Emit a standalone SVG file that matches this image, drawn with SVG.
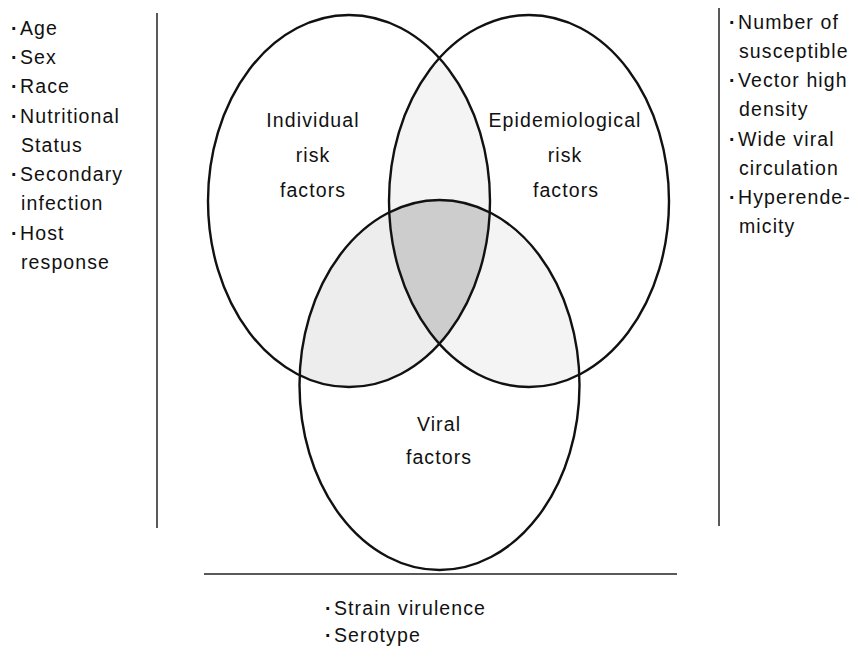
<svg xmlns="http://www.w3.org/2000/svg" width="856" height="651" viewBox="0 0 856 651">
  <style>
    .ring { fill: none; stroke: #111; stroke-width: 2.4; }
    .rule { stroke: #222; stroke-width: 1.5; fill: none; }
    .t { font-family: "Liberation Sans", Arial, sans-serif; font-size: 19.5px; letter-spacing: 1.1px; fill: #111; }
    .b { font-weight: bold; }
    .c { text-anchor: middle; }
    .light { fill: #ededed; }
    .lighter { fill: #f4f4f4; }
    .dark { fill: #cdcdcd; }
  </style>
  <defs>
    <clipPath id="clipL"><ellipse cx="349" cy="201" rx="141" ry="186"/></clipPath>
    <clipPath id="clipR"><ellipse cx="529" cy="201" rx="140" ry="186"/></clipPath>
    <clipPath id="clipB"><ellipse cx="439.5" cy="385" rx="140" ry="185"/></clipPath>
  </defs>
  <rect width="856" height="651" fill="#ffffff"/>

  <!-- shaded overlaps -->
  <g id="overlaps">
    <g clip-path="url(#clipL)"><ellipse class="lighter" cx="529" cy="201" rx="140" ry="186"/></g>
    <g clip-path="url(#clipR)"><ellipse class="lighter" cx="439.5" cy="385" rx="140" ry="185"/></g>
    <g clip-path="url(#clipL)"><ellipse class="light" cx="439.5" cy="385" rx="140" ry="185"/></g>
    <g clip-path="url(#clipL)"><g clip-path="url(#clipR)"><ellipse class="dark" cx="439.5" cy="385" rx="140" ry="185"/></g></g>
  </g>

  <!-- connectors / divider rules -->
  <g id="connectors">
    <line class="rule" x1="157" y1="13" x2="157" y2="528"/>
    <line class="rule" x1="719" y1="8" x2="719" y2="526"/>
    <line class="rule" x1="204" y1="574" x2="677" y2="574"/>
  </g>

  <g id="individual">
    <ellipse class="ring" cx="349" cy="201" rx="141" ry="186"/>
    <text class="t c" x="313" y="127">Individual</text>
    <text class="t c" x="313" y="162">risk</text>
    <text class="t c" x="313" y="197">factors</text>
  </g>

  <g id="epidemiological">
    <ellipse class="ring" cx="529" cy="201" rx="140" ry="186"/>
    <text class="t c" x="565" y="127">Epidemiological</text>
    <text class="t c" x="565" y="162">risk</text>
    <text class="t c" x="566" y="197">factors</text>
  </g>

  <g id="viral">
    <ellipse class="ring" cx="439.5" cy="385" rx="140" ry="185"/>
    <text class="t c" x="439" y="431">Viral</text>
    <text class="t c" x="439" y="464">factors</text>
  </g>

  <g id="individual-list">
    <text class="t b" x="11" y="35">·</text><text class="t" x="20" y="35">Age</text>
    <text class="t b" x="11" y="64">·</text><text class="t" x="20" y="64">Sex</text>
    <text class="t b" x="11" y="93">·</text><text class="t" x="20" y="93">Race</text>
    <text class="t b" x="11" y="123">·</text><text class="t" x="20" y="123">Nutritional</text>
    <text class="t" x="21" y="152">Status</text>
    <text class="t b" x="11" y="181">·</text><text class="t" x="20" y="181">Secondary</text>
    <text class="t" x="21" y="210">infection</text>
    <text class="t b" x="11" y="240">·</text><text class="t" x="20" y="240">Host</text>
    <text class="t" x="21" y="269">response</text>
  </g>

  <g id="epidemiological-list">
    <text class="t b" x="729" y="29">·</text><text class="t" x="738" y="29">Number of</text>
    <text class="t" x="739" y="58">susceptible</text>
    <text class="t b" x="729" y="87">·</text><text class="t" x="738" y="87">Vector high</text>
    <text class="t" x="739" y="116">density</text>
    <text class="t b" x="729" y="146">·</text><text class="t" x="738" y="146">Wide viral</text>
    <text class="t" x="739" y="175">circulation</text>
    <text class="t b" x="729" y="204">·</text><text class="t" x="738" y="204">Hyperende-</text>
    <text class="t" x="739" y="233">micity</text>
  </g>

  <g id="viral-list">
    <text class="t b" x="325" y="615">·</text><text class="t" x="334" y="615">Strain virulence</text>
    <text class="t b" x="325" y="642">·</text><text class="t" x="334" y="642">Serotype</text>
  </g>
</svg>
